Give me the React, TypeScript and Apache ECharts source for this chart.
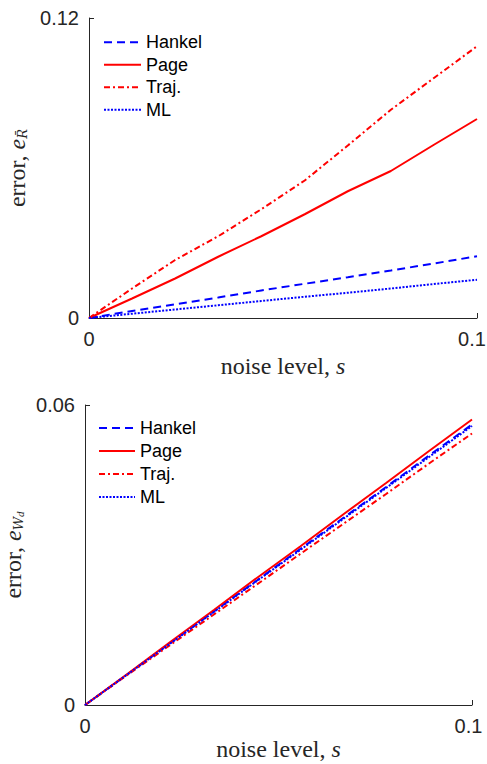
import React, { useEffect, useRef } from "react";
import * as echarts from "echarts";

const noiseLevels = [0, 0.0111, 0.0222, 0.0333, 0.0444, 0.0556, 0.0667, 0.0778, 0.0889, 0.1];

const seriesNames = ["Hankel", "Page", "Traj.", "ML"];

// top panel: error e_R
const topHankel = [0, 0.0028, 0.0055, 0.0082, 0.011, 0.0137, 0.0163, 0.019, 0.0218, 0.0247];
const topPage = [0, 0.0078, 0.0158, 0.0245, 0.0327, 0.0415, 0.0507, 0.0588, 0.0693, 0.0796];
const topTraj = [0, 0.0118, 0.0232, 0.0327, 0.0435, 0.055, 0.069, 0.0833, 0.096, 0.1087];
const topML = [0, 0.0017, 0.0034, 0.0051, 0.0068, 0.0085, 0.0101, 0.0118, 0.0136, 0.0153];

// bottom panel: error e_W
const botHankel = [0, 0.0062, 0.0125, 0.0187, 0.0249, 0.0312, 0.0374, 0.0436, 0.0499, 0.0561];
const botPage = [0, 0.0063, 0.0127, 0.019, 0.0254, 0.0317, 0.0381, 0.0444, 0.0508, 0.0571];
const botTraj = [0, 0.0061, 0.0121, 0.0181, 0.0241, 0.0302, 0.0362, 0.0422, 0.0483, 0.0543];
const botML = [0, 0.0062, 0.0124, 0.0186, 0.0248, 0.031, 0.0372, 0.0434, 0.0496, 0.0558];

const xTicksMax = 0.1;
const topYMax = 0.12;
const botYMax = 0.06;

const BLUE = "#0000ff";
const RED = "#ff0000";
const AXIS = "#262626";

const styles: Record<string, { color: string; type: any }> = {
  Hankel: { color: BLUE, type: [8, 5] },
  Page: { color: RED, type: "solid" },
  "Traj.": { color: RED, type: [6, 3, 2, 3] },
  ML: { color: BLUE, type: [2, 1.5] },
};

export default function App() {
  const ref = useRef<HTMLDivElement>(null);
  useEffect(() => {
    if (!ref.current) return;
    const chart = echarts.init(ref.current, null, { renderer: "svg" });
    const mk = (name: string, vals: number[], idx: number) => ({
      name,
      type: "line",
      xAxisIndex: idx,
      yAxisIndex: idx,
      symbol: "none",
      showSymbol: false,
      data: noiseLevels.map((x, i) => [x, vals[i]]),
      color: styles[name].color,
      lineStyle: { color: styles[name].color, width: 2, type: styles[name].type },
    });
    const serifN = { fontFamily: "Liberation Serif", fontSize: 24, color: AXIS };
    const tickFont = { fontFamily: "Liberation Sans", fontSize: 20, color: AXIS };
    const xAxisCfg = (gridIndex: number, shift: number, gap: number) => ({
      type: "value",
      gridIndex,
      min: 0,
      max: xTicksMax,
      interval: xTicksMax,
      name: "{n|noise level, }{i|s}",
      nameLocation: "middle",
      nameGap: gap,
      nameTextStyle: {
        rich: {
          n: { ...serifN, lineHeight: 20 },
          i: { ...serifN, fontStyle: "italic", lineHeight: 20 },
        },
      },
      axisLine: { show: true, lineStyle: { color: AXIS, width: 1 } },
      axisTick: { show: true, inside: true, length: 5, lineStyle: { color: AXIS } },
      axisLabel: {
        ...tickFont,
        margin: 11,
        formatter: (v: number) => (v === xTicksMax ? "{r|" + v + "}" : "{c|" + v + "}"),
        rich: {
          c: { ...tickFont },
          r: { ...tickFont, padding: [0, shift, 0, 0] },
        },
      },
      splitLine: { show: false },
    });
    const yAxisCfg = (gridIndex: number, max: number, sub: string, sub2: string, gap: number) => ({
      type: "value",
      gridIndex,
      min: 0,
      max,
      interval: max,
      name: "{n|error, }{i|e}{s|" + sub + "}" + (sub2 ? "{t|" + sub2 + "}" : ""),
      nameLocation: "middle",
      nameRotate: 90,
      nameGap: gap,
      nameTextStyle: {
        rich: {
          n: { ...serifN, lineHeight: 24, verticalAlign: "middle" },
          i: { ...serifN, fontStyle: "italic", lineHeight: 24, verticalAlign: "middle" },
          s: { fontFamily: "DejaVu Serif", fontStyle: "italic", fontSize: 13, color: AXIS, lineHeight: 14, verticalAlign: "bottom" },
          t: { fontFamily: "Liberation Serif", fontStyle: "italic", fontSize: 11, color: AXIS, lineHeight: 8, verticalAlign: "bottom" },
        },
      },
      axisLine: { show: true, lineStyle: { color: AXIS, width: 1 } },
      axisTick: { show: true, inside: true, length: 5, lineStyle: { color: AXIS } },
      axisLabel: { ...tickFont, margin: 10 },
      splitLine: { show: false },
    });
    const legendCfg = (left: number, top: number, itemWidth: number, lh: number) => ({
      orient: "vertical",
      left,
      top,
      itemWidth,
      itemHeight: 10,
      itemGap: 0,
      padding: 0,
      selectedMode: false,
      data: seriesNames,
      itemStyle: { opacity: 0 },
      textStyle: { fontFamily: "Liberation Sans", fontSize: 18, color: "#000", lineHeight: lh },
    });
    chart.setOption({
      animation: false,
      backgroundColor: "#fff",
      grid: [
        { left: 89, top: 18, width: 388, height: 300, containLabel: false, outerBoundsMode: "none" },
        { left: 85, top: 405, width: 387, height: 300, containLabel: false, outerBoundsMode: "none" },
      ],
      xAxis: [xAxisCfg(0, 10, 38), xAxisCfg(1, 7, 34)],
      yAxis: [yAxisCfg(0, topYMax, "R\u0304", "", 56), yAxisCfg(1, botYMax, "W", "d", 55)],
      legend: [legendCfg(103, 31, 37, 22.5), legendCfg(98, 416.5, 36, 23)],
      series: [
        mk("Hankel", topHankel, 0),
        mk("Page", topPage, 0),
        mk("Traj.", topTraj, 0),
        mk("ML", topML, 0),
        mk("Hankel", botHankel, 1),
        mk("Page", botPage, 1),
        mk("Traj.", botTraj, 1),
        mk("ML", botML, 1),
      ],
    });
    return () => chart.dispose();
  }, []);
  return (
    <div
      ref={ref}
      style={{ position: "fixed", left: 0, top: 0, width: 487, height: 764, background: "#fff" }}
    />
  );
}
